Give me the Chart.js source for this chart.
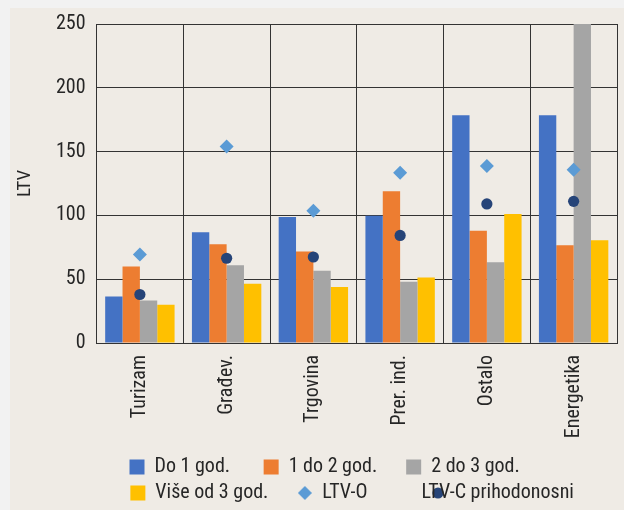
<!DOCTYPE html>
<html><head><meta charset="utf-8">
<script src="https://cdn.jsdelivr.net/npm/chart.js@4.4.1/dist/chart.umd.min.js"></script>
<style>
html,body{margin:0;padding:0;background:#f2f2f2;width:624px;height:510px;overflow:hidden}
#wrap{position:absolute;left:10px;top:8px;width:614px;height:505px;background:#efebe5}
</style></head><body><div id="wrap"><canvas id="c"></canvas></div>
<script>
const categories = ['Turizam', 'Građev.', 'Trgovina', 'Prer. ind.', 'Ostalo', 'Energetika'];
const do1God = [36.5, 86.7, 98.7, 99.7, 178.5, 178.5];
const od1do2God = [60, 77.4, 71.7, 119, 88, 76.7];
const od2do3God = [33.3, 61, 56.7, 48, 63.3, 260];
const viseOd3God = [30, 46.5, 43.8, 51.4, 101, 80.6];
const ltvO = [69.3, 154, 103.7, 133.4, 138.7, 135.8];
const ltvC = [38, 66.4, 67.4, 84.3, 109, 111];
const yTicks = [0, 50, 100, 150, 200, 250];
const seriesNames = ['Do 1 god.', '1 do 2 god.', '2 do 3 god.', 'Više od 3 god.', 'LTV-O', 'LTV-C prihodonosni'];
const seriesColors = ['#4472c4', '#ed7d31', '#a5a5a5', '#ffc000', '#5b9bd5', '#264478'];

const FONT = '"Roboto Condensed", "DejaVu Sans Condensed", sans-serif';
const FS = 20;
const TXT = '#262626';
const GRID = '#333333';

// ---- legend layout helpers (gaps emulated with trailing spaces) ----
const LEG_PAD = 6, BOX = 15, ROW_W = 461;
const gapSpaces = [6, 5, 0, 5, 5, 0];
const mctx = document.createElement('canvas').getContext('2d');
mctx.font = FS + 'px ' + FONT;
const tw = t => mctx.measureText(t).width;
const spW = tw('          ') / 10;
const itemW = t => BOX + FS / 2 + tw(t) + LEG_PAD;
const rows = [[0, 1, 2], [3, 4, 5]];
const legendTexts = [];
rows.forEach(r => {
  let w = 0;
  r.forEach((idx, k) => {
    let t = seriesNames[idx];
    if (k < r.length - 1) {
      t += ' '.repeat(gapSpaces[idx]);
    } else {
      const rest = ROW_W - w - itemW(t);
      t += ' '.repeat(Math.max(0, Math.round(rest / spW)));
    }
    legendTexts[idx] = t;
    w += itemW(t);
  });
});

function makeIcon(w, h, draw) {
  const c = document.createElement('canvas');
  c.width = w; c.height = h;
  draw(c.getContext('2d'));
  return c;
}
const diamondIcon = makeIcon(14, 14, g => {
  g.fillStyle = seriesColors[4];
  g.beginPath(); g.moveTo(7, 0); g.lineTo(14, 7); g.lineTo(7, 14); g.lineTo(0, 7); g.closePath(); g.fill();
});
const circleIcon = makeIcon(86, 12, g => {
  g.fillStyle = seriesColors[5];
  g.beginPath(); g.arc(77, 6, 5.6, 0, Math.PI * 2); g.fill();
});
const legendIcons = ['rect', 'rect', 'rect', 'rect', diamondIcon, circleIcon];

const barSeries = [do1God, od1do2God, od2do3God, viseOd3God];
const datasets = barSeries.map((d, i) => ({
  type: 'bar', label: seriesNames[i], data: d,
  backgroundColor: seriesColors[i], borderWidth: 0,
  barPercentage: 1, categoryPercentage: 0.8, order: 1
}));
datasets.push({
  type: 'line', label: seriesNames[4], data: ltvO, showLine: false,
  pointStyle: 'rectRot', pointRadius: 7, pointBackgroundColor: seriesColors[4],
  pointBorderWidth: 0, borderColor: seriesColors[4], backgroundColor: seriesColors[4], order: 0
});
datasets.push({
  type: 'line', label: seriesNames[5], data: ltvC, showLine: false,
  pointStyle: 'circle', pointRadius: 5.6, pointBackgroundColor: seriesColors[5],
  pointBorderWidth: 0, borderColor: seriesColors[5], backgroundColor: seriesColors[5], order: 0
});

new Chart(document.getElementById('c'), {
  data: { labels: categories, datasets },
  options: {
    responsive: true, maintainAspectRatio: false, animation: false,
    layout: { padding: { top: 16, right: 1.5, left: 0, bottom: 0 } },
    plugins: {
      tooltip: { enabled: false },
      legend: {
        position: 'bottom', fullSize: false, align: 'center',
        labels: {
          font: { family: FONT, size: FS }, color: TXT,
          usePointStyle: true, boxWidth: BOX, boxHeight: BOX, padding: LEG_PAD,
          sort: (a, b) => a.datasetIndex - b.datasetIndex,
          generateLabels: chart => {
            const items = Chart.defaults.plugins.legend.labels.generateLabels(chart);
            items.forEach(it => {
              it.text = legendTexts[it.datasetIndex];
              it.pointStyle = legendIcons[it.datasetIndex];
              it.fillStyle = seriesColors[it.datasetIndex];
              it.lineWidth = 0;
              it.strokeStyle = seriesColors[it.datasetIndex];
            });
            return items;
          }
        }
      }
    },
    scales: {
      x: {
        type: 'category', offset: true,
        grid: { offset: true, color: GRID, lineWidth: 1, drawTicks: false },
        border: { color: GRID, width: 1 },
        ticks: { font: { family: FONT, size: FS }, color: TXT, minRotation: 90, maxRotation: 90, padding: 12, autoSkip: false },
        afterFit: s => { s.height = 108; }
      },
      y: {
        min: 0, max: 250,
        grid: { color: GRID, lineWidth: 1, drawTicks: false },
        border: { color: GRID, width: 1 },
        ticks: { font: { family: FONT, size: FS }, color: TXT, padding: 11 },
        afterBuildTicks: s => { s.ticks = yTicks.map(v => ({ value: v })); },
        title: { display: true, text: 'LTV', font: { family: FONT, size: 19 }, color: TXT, padding: { top: 4, bottom: 4 } },
        afterFit: s => { s.width = 86.5; s.paddingTop = 0; s.paddingBottom = 0; }
      }
    }
  }
});
</script></body></html>
